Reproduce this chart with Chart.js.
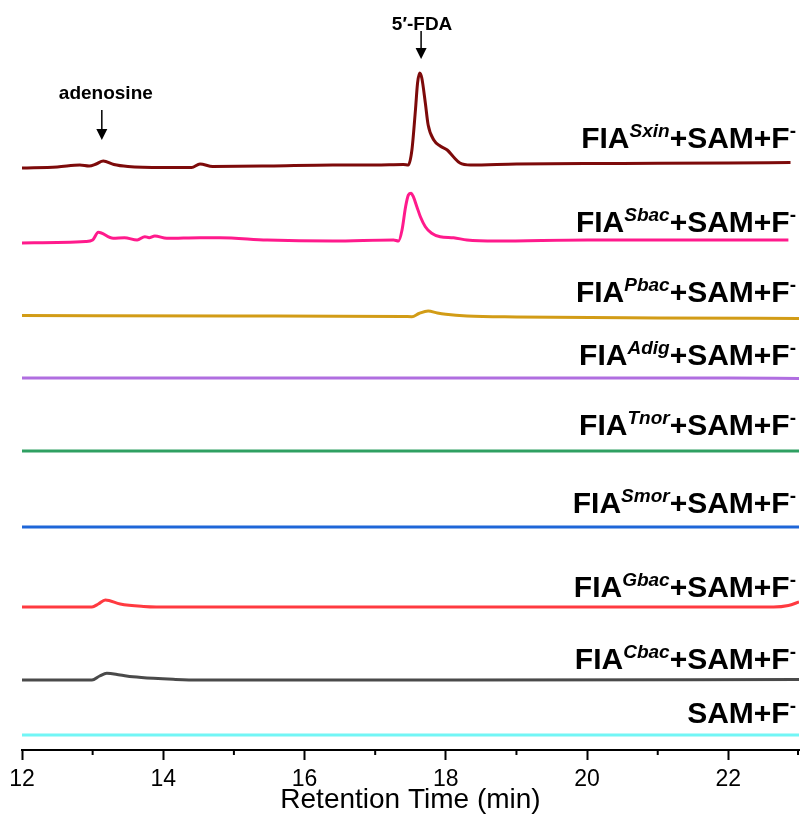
<!DOCTYPE html>
<html lang="en">
<head>
<meta charset="UTF-8">
<title>HPLC traces</title>
<script src="https://cdn.jsdelivr.net/npm/chart.js"></script>
<style>
    html, body { margin: 0; padding: 0; background: #fff; }
    .chart-container { width: 802px; height: 816px; }
</style>
</head>
<body>
<div class="chart-container"><canvas id="hplcChart" width="802" height="816"></canvas></div>
<script>
// retention time (min) and signal (arbitrary units), one pair per run
const sxinTime   = [12.0, 12.5, 12.82, 12.95, 13.05, 13.15, 13.3, 13.5, 14.0, 14.4, 14.52, 14.7, 15.5, 16.4, 17.0, 17.4, 17.47, 17.52, 17.57, 17.6, 17.63, 17.66, 17.71, 17.75, 17.83, 17.92, 18.02, 18.11, 18.2, 18.35, 19.0, 20.5, 22.0, 22.88];
const sxinSignal = [-3, -2, 0, -1, 1, 4, 0.5, -1.5, -2.5, -2.5, 1, -1.5, -1, 0, 0, 0.5, 0, 15, 55, 82, 92, 87, 62, 40, 25, 19, 15, 8, 2, 0, 1, 1.5, 2, 2.5];

const sbacTime   = [12.0, 12.9, 13.0, 13.08, 13.29, 13.45, 13.63, 13.74, 13.8, 13.88, 14.05, 14.52, 14.8, 15.47, 16.4, 17.26, 17.33, 17.38, 17.43, 17.47, 17.51, 17.54, 17.59, 17.64, 17.71, 17.8, 17.92, 18.11, 18.3, 18.72, 20.0, 22.85];
const sbacSignal = [-3, -1.5, 0, 7.7, 1.7, 2.3, 0, 3.3, 2.3, 4, 1.7, 2.3, 2.3, 0, -1, 0, -1, 10, 33, 45, 46.7, 43.3, 33.3, 23.3, 13.3, 6.7, 3.3, 2.3, 0, -1, 0, 0];

const pbacTime   = [12.0, 15.0, 17.4, 17.52, 17.62, 17.75, 17.88, 18.0, 18.3, 19.0, 21.0, 23.0];
const pbacSignal = [1.5, 1, 0.5, 0.3, 3.5, 6, 4, 2.7, 1, 0, -1, -1.5];

const adigTime   = [12.0, 14.0, 16.0, 18.0, 20.0, 22.0, 23.0];
const adigSignal = [0, 0, 0, 0, 0, 0, -0.5];

const tnorTime   = [12.0, 14.0, 16.0, 18.0, 20.0, 22.0, 23.0];
const tnorSignal = [0, 0, 0, 0, 0, 0, 0];

const smorTime   = [12.0, 14.0, 16.0, 18.0, 20.0, 22.0, 23.0];
const smorSignal = [0, 0, 0, 0, 0, 0, 0];

const gbacTime   = [12.0, 12.99, 13.08, 13.18, 13.39, 13.72, 13.9, 16.0, 20.0, 22.64, 22.85, 23.0];
const gbacSignal = [0, 0, 3, 7, 3, 0.5, 0, 0, 0, 0, 1.5, 5];

const cbacTime   = [12.0, 12.99, 13.1, 13.2, 13.39, 13.57, 13.86, 14.14, 14.5, 18.0, 23.0];
const cbacSignal = [0, 0, 4, 6.7, 5, 3.3, 1.7, 0.7, 0, 0, 0.5];

const samTime    = [12.0, 14.0, 16.0, 18.0, 20.0, 22.0, 23.0];
const samSignal  = [0, 0, 0, 0, 0, 0, 0];

const enzymes      = ['Sxin', 'Sbac', 'Pbac', 'Adig', 'Tnor', 'Smor', 'Gbac', 'Cbac', null];
const traceOffsets = [585, 510, 433, 372, 299, 223, 143, 70, 15];
const traceColors  = ['#7d0a0a', '#ff1a8c', '#d29c16', '#b06ee0', '#2fa062', '#1e66d8', '#ff3a40', '#4a4a4a', '#72f6f6'];
const traceTimes   = [sxinTime, sbacTime, pbacTime, adigTime, tnorTime, smorTime, gbacTime, cbacTime, samTime];
const traceSignals = [sxinSignal, sbacSignal, pbacSignal, adigSignal, tnorSignal, smorSignal, gbacSignal, cbacSignal, samSignal];

// peak markers: name and retention time
const peakNames = ['adenosine', '5\u2032-FDA'];
const peakTimes = [13.13, 17.65];

const FONT = "'Liberation Sans', Arial, sans-serif";

const datasets = traceTimes.map((times, i) => ({
    label: enzymes[i] ? 'FIA-' + enzymes[i] : 'SAM+F',
    data: times.map((t, j) => ({ x: t, y: traceOffsets[i] + traceSignals[i][j] })),
    borderColor: traceColors[i],
    borderWidth: 3,
    pointRadius: 0,
    fill: false,
    cubicInterpolationMode: 'monotone'
}));

// how far each run label sits above its trace
const labelLift = [17, 8, 15, 13, 16, 14, 10, 11, 12];

function drawRunLabel(ctx, parts, right, baseline) {
    const widths = parts.map(p => { ctx.font = p.font; return ctx.measureText(p.text).width; });
    let x = right - widths.reduce((a, b) => a + b, 0);
    parts.forEach((p, i) => {
        ctx.font = p.font;
        ctx.fillText(p.text, x, baseline - p.rise);
        x += widths[i];
    });
}

function drawArrow(ctx, x, y0, y1) {
    ctx.strokeStyle = '#000';
    ctx.lineWidth = 1.5;
    ctx.beginPath();
    ctx.moveTo(x, y0);
    ctx.lineTo(x, y1 - 9);
    ctx.stroke();
    ctx.beginPath();
    ctx.moveTo(x - 5.5, y1 - 11);
    ctx.lineTo(x + 5.5, y1 - 11);
    ctx.lineTo(x, y1);
    ctx.closePath();
    ctx.fill();
}

const decorPlugin = {
    id: 'decor',
    afterDraw(chart) {
        const ctx = chart.ctx;
        const xs = chart.scales.x;
        const ys = chart.scales.y;
        ctx.save();
        ctx.fillStyle = '#000';

        // minor ticks
        ctx.strokeStyle = '#000';
        ctx.lineWidth = 2;
        for (let v = 13; v <= 23; v += 2) {
            const px = Math.min(xs.getPixelForValue(v), xs.right - 1);
            ctx.beginPath();
            ctx.moveTo(px, xs.top);
            ctx.lineTo(px, xs.top + 5);
            ctx.stroke();
        }

        // run labels
        ctx.textAlign = 'left';
        ctx.textBaseline = 'alphabetic';
        const big = 'bold 30px ' + FONT;
        const supI = 'italic bold 19px ' + FONT;
        const sup = 'bold 19px ' + FONT;
        enzymes.forEach((name, i) => {
            const base = ys.getPixelForValue(traceOffsets[i]) - labelLift[i];
            const parts = name
                ? [{ text: 'FIA', font: big, rise: 0 }, { text: name, font: supI, rise: 11 },
                   { text: '+SAM+F', font: big, rise: 0 }, { text: '-', font: sup, rise: 11 }]
                : [{ text: 'SAM+F', font: big, rise: 0 }, { text: '-', font: sup, rise: 11 }];
            drawRunLabel(ctx, parts, 796, base);
        });

        // peak annotations
        ctx.textAlign = 'center';
        ctx.font = 'bold 19px ' + FONT;
        const ax = xs.getPixelForValue(peakTimes[0]);
        ctx.fillText(peakNames[0], ax + 4, 99);
        drawArrow(ctx, ax, 110, 140);
        const fx = xs.getPixelForValue(peakTimes[1]);
        ctx.fillText(peakNames[1], fx + 1, 30);
        drawArrow(ctx, fx, 31, 59);

        ctx.restore();
    }
};

const ctx = document.getElementById('hplcChart').getContext('2d');
const hplcChart = new Chart(ctx, {
    type: 'line',
    data: { datasets: datasets },
    options: {
        responsive: false,
        devicePixelRatio: 1,
        animation: false,
        layout: { padding: { left: 22, right: 3, top: 0, bottom: 0 } },
        plugins: {
            legend: { display: false },
            tooltip: { enabled: false }
        },
        scales: {
            x: {
                type: 'linear',
                min: 12,
                max: 23,
                ticks: {
                    stepSize: 2,
                    includeBounds: false,
                    autoSkip: false,
                    maxRotation: 0,
                    color: '#000',
                    padding: 6,
                    font: { family: FONT, size: 23 }
                },
                grid: {
                    drawOnChartArea: false,
                    drawTicks: true,
                    tickLength: 10,
                    tickWidth: 2,
                    tickColor: '#000'
                },
                border: { display: true, color: '#000', width: 2 },
                title: {
                    display: true,
                    text: 'Retention Time (min)',
                    color: '#000',
                    font: { family: FONT, size: 28, lineHeight: 1.1 },
                    padding: { top: 0, bottom: 0 }
                },
                afterFit(scale) { scale.height = 66; }
            },
            y: { display: false, min: 0, max: 750 }
        }
    },
    plugins: [decorPlugin]
});
</script>
</body>
</html>
